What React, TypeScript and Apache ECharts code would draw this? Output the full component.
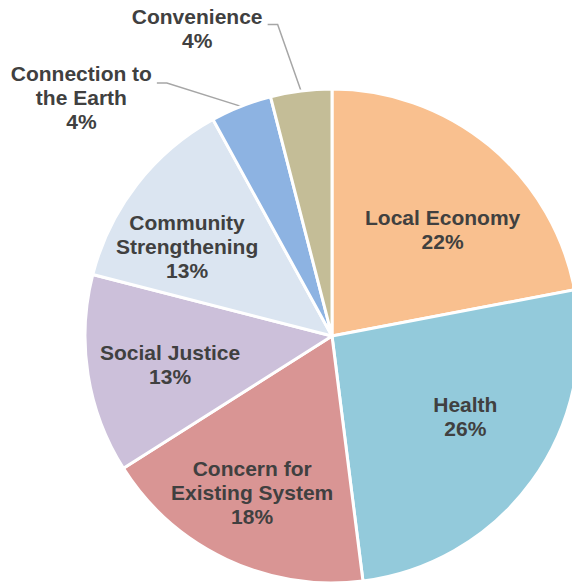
import React, { useEffect, useRef } from "react";
import * as echarts from "echarts";

const categories = [
  "Local Economy",
  "Health",
  "Concern for\nExisting System",
  "Social Justice",
  "Community\nStrengthening",
  "Connection to\nthe Earth",
  "Convenience",
];
const values = [22, 26, 18, 13, 13, 4, 4];
const colors = ["#F9C08F", "#93CADB", "#D99594", "#CCC0DA", "#DBE5F1", "#8DB3E2", "#C4BD97"];
// label nudges relative to ECharts' default inside position
const insideOffsets: Record<string, [number, number]> = {
  "Local Economy": [30, -9],
  Health: [31, 6],
  "Concern for\nExisting System": [-26, 42],
  "Social Justice": [-37, 9],
  "Community\nStrengthening": [-45, -12],
};
const outsideLabels: Record<string, { len: number; len2: number; width: number; dy: number; stub: number }> = {
  "Connection to\nthe Earth": { len: 25, len2: 75, width: 141, dy: 14, stub: 10 },
  Convenience: { len: 67, len2: 25, width: 131, dy: 4, stub: 10 },
};

const FONT = "'Liberation Sans', Arial, sans-serif";
const TEXT = "#404040";

export default function App() {
  const ref = useRef<HTMLDivElement>(null);
  useEffect(() => {
    document.body.style.margin = "0";
    if (!ref.current) return;
    const chart = echarts.init(ref.current, undefined, { renderer: "svg" });
    const data = categories.map((name, i) => {
      const item: any = { name, value: values[i], itemStyle: { color: colors[i] } };
      const o = outsideLabels[name];
      if (o) {
        item.label = {
          position: "outside",
          formatter: (p: any) =>
            String(p.name)
              .split("\n")
              .concat([`${p.value}%`])
              .map((l: string) => `{a|${l}}`)
              .join("\n"),
          rich: {
            a: {
              width: o.width,
              align: "center",
              fontFamily: FONT,
              fontWeight: "bold",
              fontSize: 21,
              lineHeight: 24,
              color: TEXT,
            },
          },
        };
        item.labelLine = {
          show: true,
          length: o.len,
          length2: o.len2,
          lineStyle: { color: "#A6A6A6", width: 1.5 },
        };
      } else {
        item.label = {
          position: "inside",
          offset: insideOffsets[name] || [0, 0],
        };
        item.labelLine = { show: false };
      }
      return item;
    });
    chart.setOption({
      animation: false,
      backgroundColor: "#ffffff",
      series: [
        {
          type: "pie",
          center: [332, 336],
          radius: 247,
          startAngle: 90,
          clockwise: true,
          avoidLabelOverlap: false,
          itemStyle: { borderColor: "#ffffff", borderWidth: 3 },
          label: {
            show: true,
            fontFamily: FONT,
            fontWeight: "bold",
            fontSize: 21,
            lineHeight: 24,
            color: TEXT,
            formatter: (p: any) => `${p.name}\n${p.value}%`,
          },
          labelLayout: (params: any) => {
            const o = outsideLabels[categories[params.dataIndex]];
            const pts = params.labelLinePoints;
            if (!o || !pts || pts.length < 3) return {};
            const start = pts[0];
            const end = pts[2];
            const dir = end[0] < start[0] ? 1 : -1;
            return {
              dy: o.dy,
              labelLinePoints: [
                [start[0], start[1]],
                [end[0] + dir * o.stub, end[1]],
                [end[0], end[1]],
              ],
            };
          },
          emphasis: { disabled: true },
          data,
        },
      ],
    });
    return () => chart.dispose();
  }, []);
  return <div ref={ref} style={{ width: 572, height: 585 }} />;
}
